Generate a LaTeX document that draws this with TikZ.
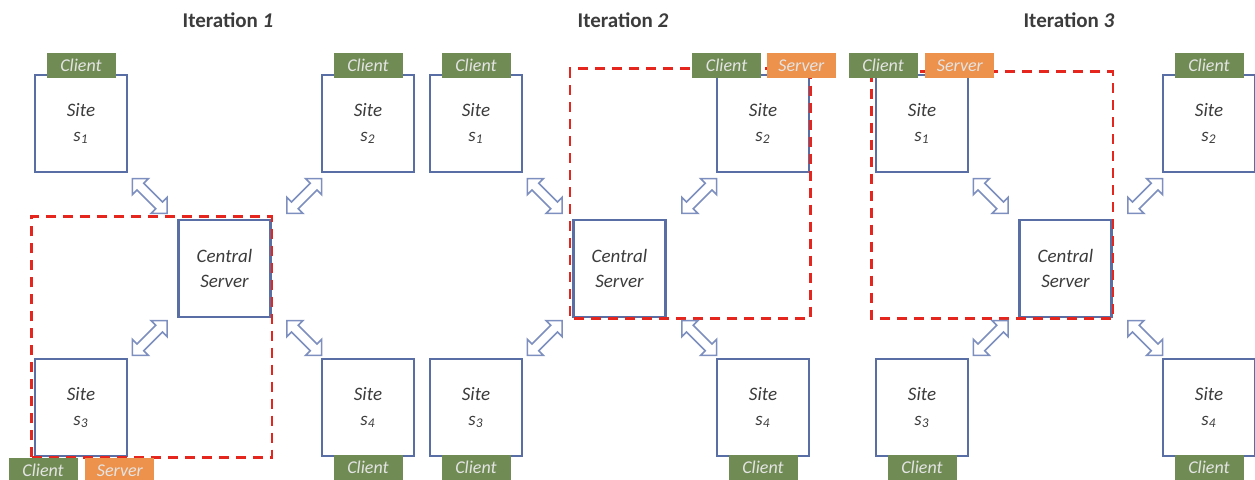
\documentclass[tikz,border=0pt]{standalone}
\usepackage{fontspec}
\setmainfont{Carlito}
\usetikzlibrary{positioning,shapes.arrows,calc}
\definecolor{boxblue}{RGB}{88,110,165}
\definecolor{arrblue}{RGB}{125,143,190}
\definecolor{clgreen}{RGB}{112,140,84}
\definecolor{svorange}{RGB}{236,146,76}
\definecolor{grpred}{RGB}{228,38,30}
\definecolor{txtgray}{RGB}{60,60,60}
\definecolor{lbltxt}{RGB}{228,228,228}
\tikzset{
  site/.style={draw=boxblue, line width=1.4pt, fill=white, minimum width=46pt, minimum height=48.5pt,
    inner sep=0pt, align=center, font=\fontsize{9.5}{12.5}\selectfont\itshape, text=txtgray},
  client/.style={fill=clgreen, minimum width=34.5pt, minimum height=12.5pt, inner sep=0pt,
    font=\fontsize{9}{10}\selectfont\itshape, text=lbltxt},
  server/.style={client, fill=svorange},
  dblarr/.style={double arrow, draw=arrblue, line width=0.8pt, fill=white, minimum height=24.5pt,
    minimum width=0pt, inner xsep=0pt, inner ysep=2pt, double arrow head extend=3.25pt},
  grp/.style={draw=grpred, line width=1.3pt, dash pattern=on 5pt off 3.5pt},
  ttl/.style={font=\fontsize{10.5}{12}\selectfont\bfseries, text=txtgray}
}
\begin{document}
\begin{tikzpicture}[x=0.5pt, y=-0.5pt]
\useasboundingbox (0,0) rectangle (1255,479);
% Iteration 1
\node[ttl] (t1) at (228,20) {Iteration \textit{1}};
\node[site] (s11) at (81,123.5) {Site\\s\textsubscript{1}};
\node[site] (s12) at (368,123.5) {Site\\s\textsubscript{2}};
\node[site] (cs1) at (224.5,268.5) {Central\\Server};
\node[site] (s13) at (81,407.5) {Site\\s\textsubscript{3}};
\node[site] (s14) at (368,407.5) {Site\\s\textsubscript{4}};
\draw[grp] ([xshift=-1pt]s13.south west) rectangle ([yshift=1pt]cs1.north east);
\node[client, above=-2.5pt of s11] (c11) {Client};
\node[client, above=-2.5pt of s12] (c12) {Client};
\node[client, below left=0pt and 1.5pt of s13.south] (c13) {Client};
\node[server, right=3.5pt of c13] (v13) {Server};
\node[client, below=-1.5pt of s14] (c14) {Client};
\node[dblarr, rotate=-45] (a11) at ($(s11.south east)!.5!(cs1.north west)+(-3,0)$) {};
\node[dblarr, rotate=45] (a12) at ($(s12.south west)!.5!(cs1.north east)+(8,0)$) {};
\node[dblarr, rotate=45] (a13) at ($(s13.north east)!.5!(cs1.south west)+(-3,0)$) {};
\node[dblarr, rotate=-45] (a14) at ($(s14.north west)!.5!(cs1.south east)+(8,0)$) {};
% Iteration 2
\node[ttl] (t2) at (623,20) {Iteration \textit{2}};
\node[site] (s21) at (476,123.5) {Site\\s\textsubscript{1}};
\node[site] (s22) at (763,123.5) {Site\\s\textsubscript{2}};
\node[site] (cs2) at (619.5,268.5) {Central\\Server};
\node[site] (s23) at (476,407.5) {Site\\s\textsubscript{3}};
\node[site] (s24) at (763,407.5) {Site\\s\textsubscript{4}};
\draw[grp] ([yshift=2.5pt]s22.north east) rectangle ([xshift=-1pt]cs2.south west);
\node[client, above=-2.5pt of s21] (c21) {Client};
\node[client, above left=-2.5pt and 0.75pt of s22.north] (c22) {Client};
\node[server, right=2.5pt of c22] (v22) {Server};
\node[client, below=-1.5pt of s23] (c23) {Client};
\node[client, below=-1.5pt of s24] (c24) {Client};
\node[dblarr, rotate=-45] (a21) at ($(s21.south east)!.5!(cs2.north west)+(-3,0)$) {};
\node[dblarr, rotate=45] (a22) at ($(s22.south west)!.5!(cs2.north east)+(8,0)$) {};
\node[dblarr, rotate=45] (a23) at ($(s23.north east)!.5!(cs2.south west)+(-3,0)$) {};
\node[dblarr, rotate=-45] (a24) at ($(s24.north west)!.5!(cs2.south east)+(8,0)$) {};
% Iteration 3
\node[ttl] (t3) at (1069,20) {Iteration \textit{3}};
\node[site] (s31) at (922,123.5) {Site\\s\textsubscript{1}};
\node[site] (s32) at (1209,123.5) {Site\\s\textsubscript{2}};
\node[site] (cs3) at (1065.5,268.5) {Central\\Server};
\node[site] (s33) at (922,407.5) {Site\\s\textsubscript{3}};
\node[site] (s34) at (1209,407.5) {Site\\s\textsubscript{4}};
\draw[grp] ([xshift=-1.5pt,yshift=1pt]s31.north west) rectangle (cs3.south east);
\node[client, above left=-2.5pt and 2pt of s31.north] (c31) {Client};
\node[server, right=3.5pt of c31] (v31) {Server};
\node[client, above=-2.5pt of s32] (c32) {Client};
\node[client, below=-1.5pt of s33] (c33) {Client};
\node[client, below=-1.5pt of s34] (c34) {Client};
\node[dblarr, rotate=-45] (a31) at ($(s31.south east)!.5!(cs3.north west)+(-3,0)$) {};
\node[dblarr, rotate=45] (a32) at ($(s32.south west)!.5!(cs3.north east)+(8,0)$) {};
\node[dblarr, rotate=45] (a33) at ($(s33.north east)!.5!(cs3.south west)+(-3,0)$) {};
\node[dblarr, rotate=-45] (a34) at ($(s34.north west)!.5!(cs3.south east)+(8,0)$) {};
\end{tikzpicture}
\end{document}
